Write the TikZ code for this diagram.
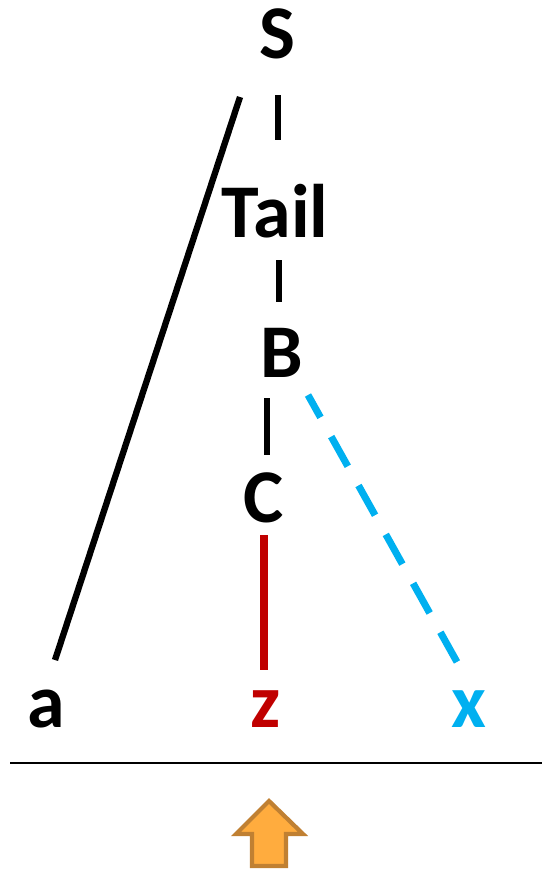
\documentclass[tikz,border=0pt]{standalone}
\usepackage{fontspec}
\setmainfont{Carlito}
\definecolor{darkred}{HTML}{C00000}
\definecolor{skyblue}{HTML}{00B0F0}
\definecolor{arrowfill}{RGB}{255,172,62}
\definecolor{arrowedge}{RGB}{192,128,50}
\begin{document}
\begin{tikzpicture}[x=0.025cm,y=-0.025cm,
  sym/.style={inner sep=0pt,anchor=base,font=\fontsize{54}{60}\selectfont\bfseries},
  link/.style={line width=4.5pt}]
\useasboundingbox (0,0) rectangle (542,869);

\node[sym] (S) at (277,58) {S};
\node[sym] (Tail) at (275,237) {Tail};
\node[sym] (B) at (282,377) {B};
\node[sym] (C) at (264,522) {C};
\node[sym] (a) at (46,727) {a};
\node[sym,text=darkred] (z) at (266,727) {z};
\node[sym,text=skyblue] (x) at (469,727) {x};

\draw[link] ([shift={(1,37)}]S.base) -- ([shift={(3,-97)}]Tail.base);
\draw[link] ([shift={(4,23)}]Tail.base) -- ([shift={(-3,-75)}]B.base);
\draw[link] ([shift={(-15,21)}]B.base) -- ([shift={(3,-67)}]C.base);
\draw[link,darkred,line width=5pt] ([shift={(0,13)}]C.base) -- ([shift={(-2,-57)}]z.base);
\draw[link] ([shift={(-37,39)}]S.base) -- ([shift={(9,-67)}]a.base);
\draw[link,skyblue,line width=5pt,dash pattern=on 0.85cm off 0.55cm,dash phase=0.21cm]
  ([shift={(26,18)}]B.base) -- ([shift={(-12,-65)}]x.base);

\draw[line width=2pt] (10,763) -- (542,763);

\draw[line width=3pt,line join=miter,fill=arrowfill,draw=arrowedge]
  (252,866) -- (252,834) -- (236,834) -- (269,801) -- (303,834)
  -- (286,834) -- (286,866) -- cycle;
\end{tikzpicture}
\end{document}
